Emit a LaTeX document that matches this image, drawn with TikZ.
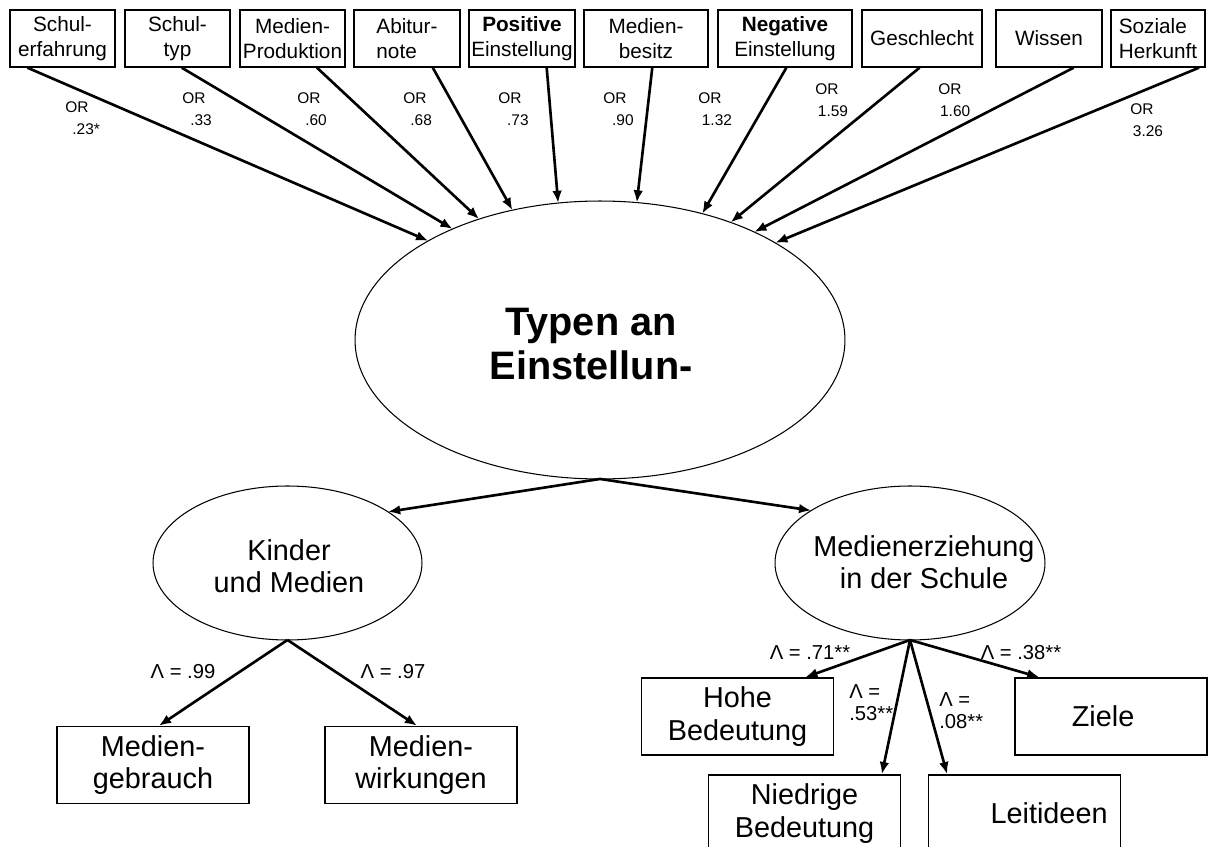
\documentclass[tikz,border=0pt]{standalone}
\usepackage{fontspec}
\setmainfont{Liberation Sans}
\usetikzlibrary{arrows.meta, shapes.geometric, calc}

\begin{document}
\begin{tikzpicture}[
		x=0.02cm, y=-0.02cm,
		>={Latex[length=7pt,width=5.5pt]},
		smallbox/.style={rectangle,draw,line width=0.8pt,inner sep=0pt,minimum height=1.14cm,align=center,font=\fontsize{11.8}{14.2}\selectfont},
		bigbox/.style={rectangle,draw,line width=0.8pt,inner sep=0pt,minimum width=3.84cm,minimum height=1.54cm,align=center,font=\fontsize{16.4}{18.5}\selectfont},
		latentvertex/.style={ellipse,draw,line width=0.6pt,inner sep=0pt,outer sep=0pt},
		latenttext/.style={align=center,inner sep=0pt,font=\fontsize{16.4}{18.5}\selectfont},
		orlabel/.style={anchor=north west,align=left,inner sep=0pt,font=\fontsize{8.8}{13}\selectfont},
		lambdalabel/.style={inner sep=0pt,align=left,font=\fontsize{11.5}{12.8}\selectfont},
		pathline/.style={->,line width=1.5pt}
		]
		\useasboundingbox (0,0) rectangle (1215,847);
		\clip (0,0) rectangle (1215,847);

		% predictors
		\node[smallbox, minimum width=2.1cm](schulerf) at (62.5,38.5){Schul-\\erfahrung};
		\node[smallbox, minimum width=2.1cm](schultyp) at (177.5,38.5){Schul-\\typ};
		\node[smallbox, minimum width=2.1cm](medprod) at (292.5,38.5){Medien-\\Produktion};
		\node[smallbox, minimum width=2.12cm, align=left](abitur) at (407,38.5){Abitur-\\note};
		\node[smallbox, minimum width=2.12cm](posein) at (522,38.5){\textbf{Positive}\\Einstellung};
		\node[smallbox, minimum width=2.48cm](medbes) at (646,38.5){Medien-\\besitz};
		\node[smallbox, minimum width=2.68cm](negein) at (785,38.5){\textbf{Negative}\\Einstellung};
		\node[smallbox, minimum width=2.4cm](geschl) at (922,38.5){Geschlecht};
		\node[smallbox, minimum width=2.12cm](wissen) at (1049,38.5){Wissen};
		\node[smallbox, minimum width=1.88cm, align=left](sozher) at (1158,38.5){Soziale\\Herkunft};

		% latent types
		\node[latentvertex, minimum width=9.8cm, minimum height=5.56cm](typ) at (600,340){};
		\node[latenttext, font=\fontsize{22.6}{25.5}\selectfont\bfseries](typtext) at (591,344){Typen an\\Einstellun-};
		\node[latentvertex, minimum width=5.38cm, minimum height=3.08cm](kum) at (287.5,563){};
		\node[latenttext](kumtext) at (289,566){Kinder\\und Medien};
		\node[latentvertex, minimum width=5.4cm, minimum height=3.08cm](mez) at (910,563){};
		\node[latenttext](meztext) at (924,562){Medienerziehung\\in der Schule};

		% indicators
		\node[bigbox](gebrauch) at (153,765){Medien-\\gebrauch};
		\node[bigbox](wirkung) at (421,765){Medien-\\wirkungen};
		\node[bigbox](hohe) at (737.5,716.5){Hohe\\Bedeutung};
		\node[bigbox](ziele) at (1111,716.5){Ziele\hspace*{9pt}};
		\node[bigbox](niedrig) at (804.5,813.5){Niedrige\\Bedeutung};
		\node[bigbox](leit) at (1024.5,813.5){\hspace*{28pt}Leitideen};

		% odds ratios
		\draw[pathline] ($(schulerf.south west)!0.17!(schulerf.south east)$) -- (typ.150.5);
		\draw[pathline] ($(schultyp.south west)!0.54!(schultyp.south east)$) -- (typ.143.7);
		\draw[pathline] ($(medprod.south west)!0.73!(medprod.south east)$) -- (typ.135.2);
		\draw[pathline] ($(abitur.south west)!0.74!(abitur.south east)$) -- (typ.124.7);
		\draw[pathline] ($(posein.south west)!0.73!(posein.south east)$) -- (typ.107.7);
		\draw[pathline] ($(medbes.south west)!0.55!(medbes.south east)$) -- (typ.75.8);
		\draw[pathline] ($(negein.south west)!0.51!(negein.south east)$) -- (typ.51.9);
		\draw[pathline] ($(geschl.south west)!0.48!(geschl.south east)$) -- (typ.42.5);
		\draw[pathline] ($(wissen.south west)!0.73!(wissen.south east)$) -- (typ.35.9);
		\draw[pathline] ($(sozher.south west)!0.93!(sozher.south east)$) -- (typ.29.2);

		\node[orlabel](orschulerf) at (65,101){OR\\\hspace*{4pt}.23*};
		\node[orlabel](orschultyp) at (182,92){OR\\\hspace*{4.5pt}.33};
		\node[orlabel](ormedprod) at (297,92){OR\\\hspace*{4.5pt}.60};
		\node[orlabel](orabitur) at (403,92){OR\\\hspace*{4pt}.68};
		\node[orlabel](orposein) at (498,92){OR\\\hspace*{5pt}.73};
		\node[orlabel](ormedbes) at (603,92){OR\\\hspace*{5pt}.90};
		\node[orlabel](ornegein) at (698,92){OR\\\hspace*{2pt}1.32};
		\node[orlabel](orgeschl) at (815,83){OR\\\hspace*{1.5pt}1.59};
		\node[orlabel](orwissen) at (938,83){OR\\\hspace*{1pt}1.60};
		\node[orlabel](orsozher) at (1130,103){OR\\\hspace*{1.5pt}3.26};

		% loadings
		\draw[pathline] (typ.south) -- (kum.27.3);
		\draw[pathline] (typ.south) -- (mez.152.8);
		\draw[pathline] (kum.south) -- ($(gebrauch.north west)!0.53!(gebrauch.north east)$);
		\draw[pathline] (kum.south) -- ($(wirkung.north west)!0.48!(wirkung.north east)$);
		\draw[pathline] (mez.south) -- ($(hohe.north west)!0.85!(hohe.north east)$);
		\draw[pathline] (mez.south) -- ($(niedrig.north west)!0.9!(niedrig.north east)$);
		\draw[pathline] (mez.south) -- ($(leit.north west)!0.1!(leit.north east)$);
		\draw[pathline] (mez.south) -- ($(ziele.north west)!0.13!(ziele.north east)$);

		\node[lambdalabel](lgebrauch) at (183,672){Λ = .99};
		\node[lambdalabel](lwirkung) at (393,672){Λ = .97};
		\node[lambdalabel](lhohe) at (810,653){Λ = .71**};
		\node[lambdalabel](lziele) at (1021,653){Λ = .38**};
		\node[lambdalabel, anchor=north west](lniedrig) at (849,684){Λ =\\.53**};
		\node[lambdalabel, anchor=north west](lleit) at (939,692){Λ =\\.08**};

	\end{tikzpicture}
\end{document}
